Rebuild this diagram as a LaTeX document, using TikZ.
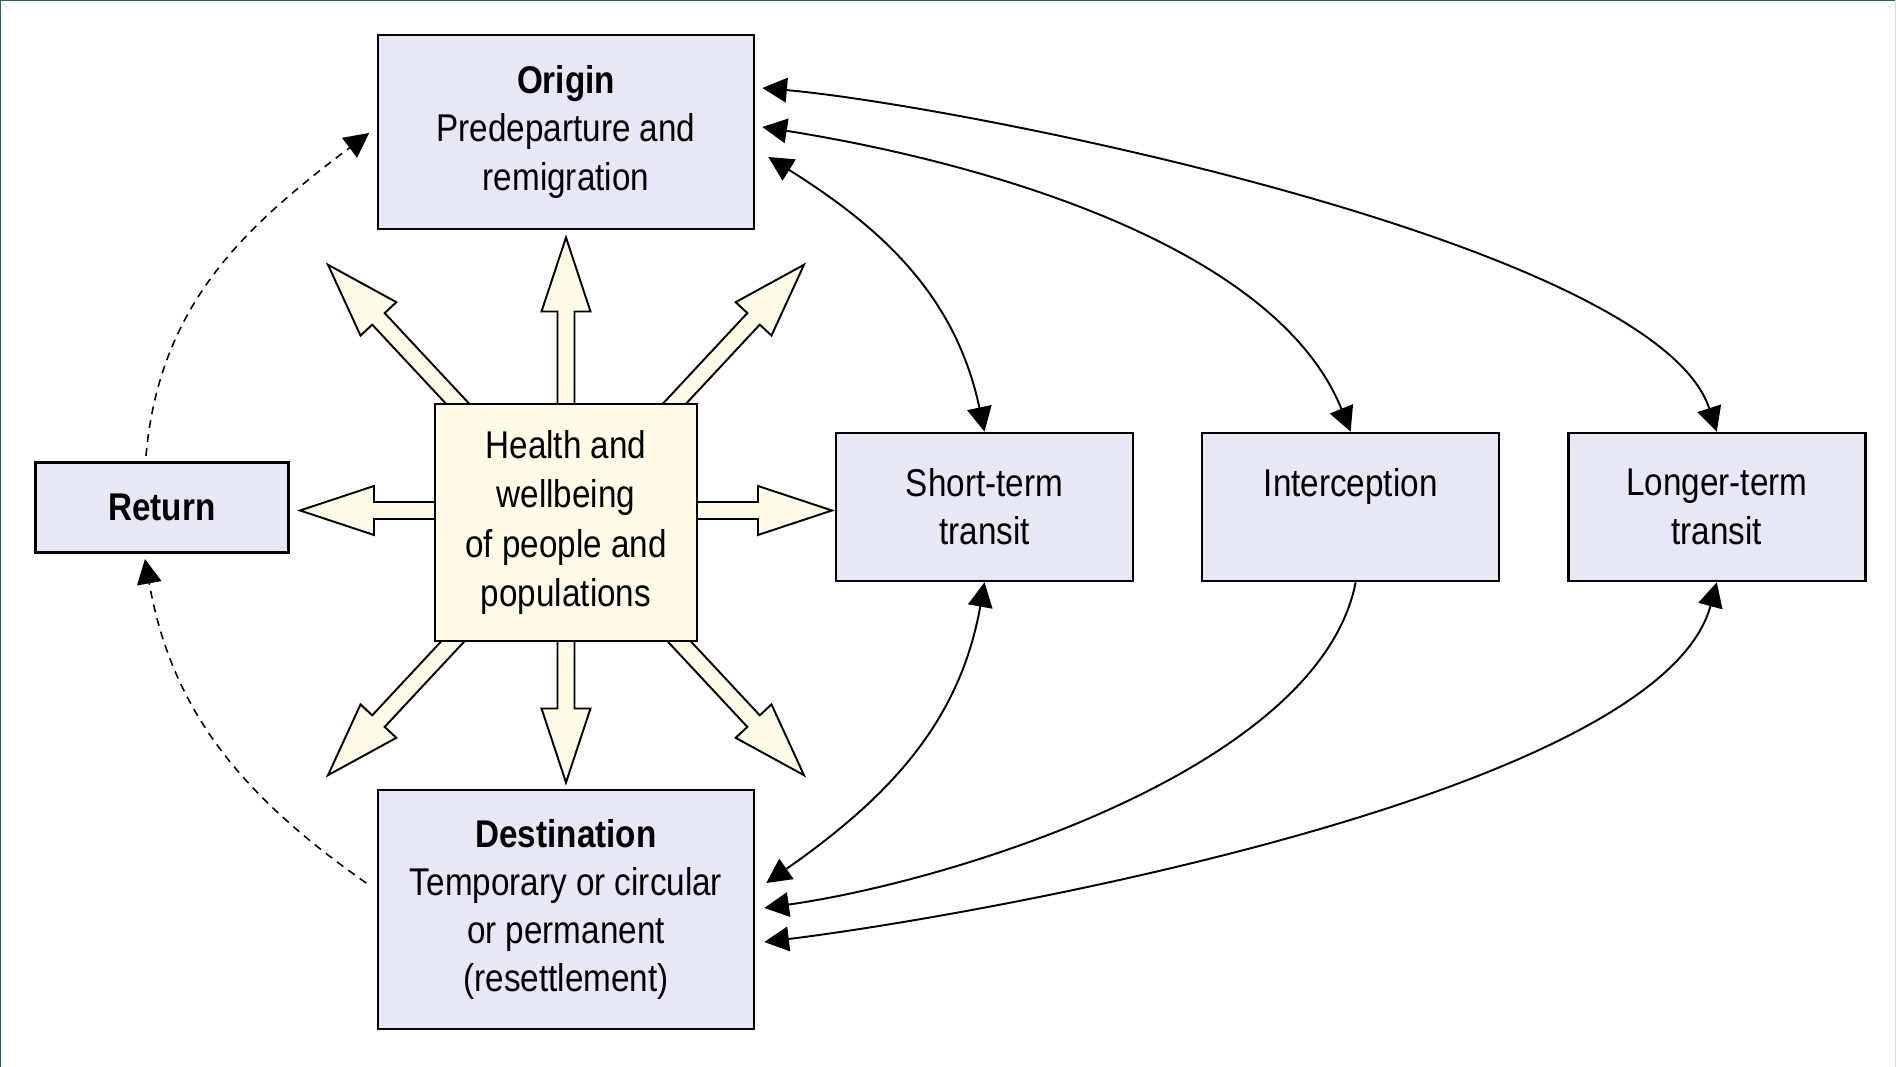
\documentclass[tikz,border=0pt]{standalone}
\usepackage{fontspec}
\setmainfont{Liberation Sans}[FakeStretch=0.86]
\usepackage{tikz}
\usetikzlibrary{positioning,arrows.meta}
\definecolor{stagefill}{RGB}{230,232,245}
\definecolor{wellfill}{RGB}{255,251,230}
\definecolor{framegreen}{RGB}{30,110,70}
\tikzset{
    stage box/.style={rectangle, draw, line width=1.5pt, fill=stagefill, align=center, font=\fontsize{22}{27.5}\selectfont},
    transit box/.style={stage box, minimum width=5.94cm, minimum height=2.96cm},
    well box/.style={rectangle, draw, line width=1.2pt, fill=wellfill, align=center, minimum width=5.24cm, minimum height=4.74cm, font=\fontsize{22}{28}\selectfont},
    fat arrow/.style={draw, line width=1.1pt, fill=wellfill, line join=miter},
    two way/.style={draw, line width=1.1pt, {Triangle[length=14pt, width=14pt]}-{Triangle[length=14pt, width=14pt]}},
    one way/.style={draw, line width=1.1pt, -{Triangle[length=14pt, width=14pt]}},
    return arrow/.style={one way, line width=0.9pt, dash pattern=on 4.5pt off 3.5pt}
}

\begin{document}
\begin{tikzpicture}
\useasboundingbox (0,0) rectangle (37.92,21.34);
\draw[framegreen, line width=1.4pt] (0,0) -- (0,21.34) -- (37.92,21.34);
\draw[gray!30, line width=0.8pt] (37.92,0) -- (37.92,21.34);

% Health in the middle, with its eight arrows
\coordinate (hc) at (11.32,10.89);
\foreach \ang/\len/\dy in {0/5.32/0.24, 180/5.32/0.24, 90/5.70/0, 270/5.20/0,
                          47/6.98/0.05, 133/6.98/0.05, 227/6.98/0.05, 313/6.98/0.05}
  \draw[fat arrow, shift={(hc)}, yshift=\dy cm, rotate=\ang]
    (0,0.17) -- ({\len-1.48},0.17) -- ({\len-1.48},0.49) -- (\len,0)
    -- ({\len-1.48},-0.49) -- ({\len-1.48},-0.17) -- (0,-0.17) -- cycle;
\node[well box] (health) at (hc) {Health and\\wellbeing\\of people and\\populations};

% Stages
\node[stage box, minimum width=7.52cm, minimum height=3.88cm] (origin) at (11.32,18.70)
  {\textbf{Origin}\\Predeparture and\\remigration};
\node[stage box, minimum width=7.52cm, minimum height=4.78cm] (dest) at (11.32,3.15)
  {\textbf{Destination}\\Temporary or circular\\or permanent\\(resettlement)};
\node[stage box, minimum width=5.05cm, minimum height=1.81cm] (return) at (3.24,11.19)
  {\textbf{Return}};
\node[transit box] (short) at (19.69,11.20) {Short-term\\transit};
\node[transit box, right=1.33cm of short] (intercept) {Interception\\\phantom{transit}};
\node[transit box, right=1.33cm of intercept] (longer) {Longer-term\\transit};

% Origin to transit
\draw[two way] ([shift={(0.26,-0.50)}]origin.east) to[out=-32, in=102] (short.north);
\draw[two way] ([shift={(0.14,0.10)}]origin.east) to[out=-9, in=112, looseness=0.8] (intercept.north);
\draw[two way] ([shift={(0.14,0.88)}]origin.east) to[out=-5, in=108, looseness=0.5] (longer.north);

% Transit to destination
\draw[two way] (short.south) to[out=-100, in=35] ([shift={(0.22,0.53)}]dest.east);
\draw[one way] ([xshift=0.1cm]intercept.south) to[out=-101, in=8, looseness=0.72] ([shift={(0.18,0.03)}]dest.east);
\draw[two way] (longer.south) to[out=-105, in=7, looseness=0.55] ([shift={(0.18,-0.65)}]dest.east);

% Return loop
\draw[return arrow] ([shift={(-0.32,0.1)}]return.north) to[out=85, in=217] ([shift={(-0.15,-0.02)}]origin.west);
\draw[return arrow] ([shift={(-0.21,0.53)}]dest.west) to[out=145, in=-80] ([shift={(-0.34,-0.1)}]return.south);
\end{tikzpicture}
\end{document}
